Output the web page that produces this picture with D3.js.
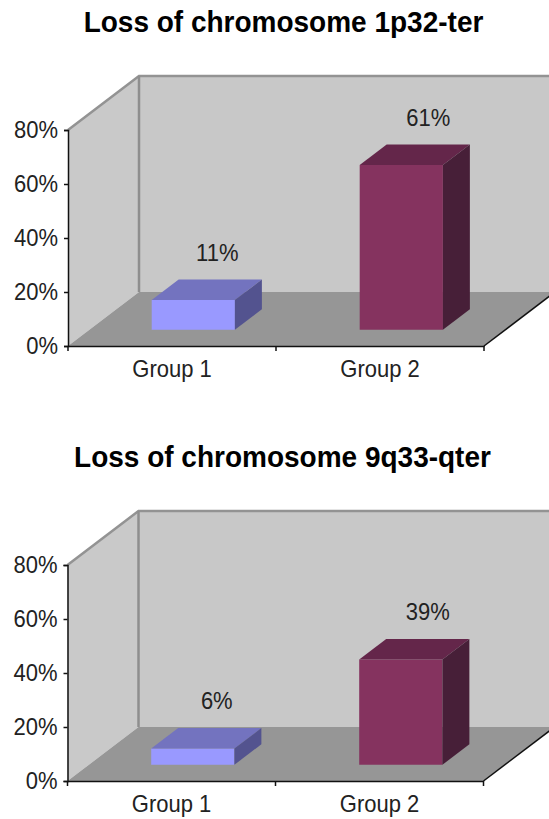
<!DOCTYPE html>
<html>
<head>
<meta charset="utf-8">
<script src="https://cdn.jsdelivr.net/npm/d3@7"></script>
<style>
    body { margin: 0; background: #fff; }
    /* the source picture is a little taller than wide, letters included */
    text {
        font-family: "Liberation Sans", Arial, sans-serif;
        transform-box: fill-box;
        transform-origin: center;
        transform: scaleY(1.07);
    }
</style>
</head>
<body>
<svg id="chart" width="549" height="819"></svg>
<script>
let groups = ["Group 1", "Group 2"];
let titles = ["Loss of chromosome 1p32-ter", "Loss of chromosome 9q33-qter"];
let valuesTop = [11, 61];
let valuesBottom = [6, 39];
let yTicks = [0, 20, 40, 60, 80];
let barFront = ["#9999ff", "#85335f"];
let barTop = ["#7373bf", "#64264a"];
let barSide = ["#53538f", "#471f38"];

let svg = d3.select("#chart");

function drawPanel(title, values, o) {
    let g = svg.append("g").attr("transform", "translate(" + o.left + "," + o.top + ")");

    let xScale = d3.scaleBand().domain(groups).range([0, 416]);
    let yScale = d3.scaleLinear().domain([0, 80]).range([216, 0]);

    let depthX = 71, depthY = 54;
    let right = xScale.range()[1];
    let zero = yScale(0), full = yScale(80);

    // point in chart space, d is depth 0 (front) to 1 (back wall)
    function pt(x, y, d) {
        return [x + d * depthX, y - d * depthY];
    }
    let poly = function (pts) {
        return "M" + pts.map(function (p) { return p.join(","); }).join("L") + "Z";
    };

    // walls and floor
    g.append("path")
        .attr("d", poly([pt(0, full, 1), pt(right, full, 1), pt(right, zero, 1), pt(0, zero, 1)]))
        .attr("fill", "#c8c8c8");
    g.append("path")
        .attr("d", poly([pt(0, full, 0), pt(0, full, 1), pt(0, zero, 1), pt(0, zero, 0)]))
        .attr("fill", "#c9c9c9");
    g.append("path")
        .attr("d", poly([pt(0, zero, 0), pt(right, zero, 0), pt(right, zero, 1), pt(0, zero, 1)]))
        .attr("fill", "#969696");

    let edges = d3.line();
    g.append("path")
        .attr("d", edges([pt(0, full, 0), pt(0, full, 1), pt(right, full, 1)]))
        .attr("fill", "none").attr("stroke", "#939393").attr("stroke-width", 2.5);
    g.append("path")
        .attr("d", edges([pt(0, full, 1), pt(0, zero, 1)]))
        .attr("fill", "none").attr("stroke", "#8e8e8e").attr("stroke-width", 2.5);

    // bars
    let front = 0.3, back = 0.68;
    let barW = xScale.bandwidth() * 0.4;
    values.forEach(function (v, i) {
        let x0 = xScale(groups[i]) + xScale.bandwidth() / 2 - barW / 2;
        let x1 = x0 + barW;
        let yv = yScale(v);
        g.append("path")
            .attr("d", poly([pt(x0, yv, front), pt(x1, yv, front), pt(x1, zero, front), pt(x0, zero, front)]))
            .attr("fill", barFront[i]);
        g.append("path")
            .attr("d", poly([pt(x0, yv, front), pt(x0, yv, back), pt(x1, yv, back), pt(x1, yv, front)]))
            .attr("fill", barTop[i]);
        g.append("path")
            .attr("d", poly([pt(x1, yv, front), pt(x1, yv, back), pt(x1, zero, back), pt(x1, zero, front)]))
            .attr("fill", barSide[i]);

        let lab = pt((x0 + x1) / 2, yv, back);
        g.append("text")
            .attr("x", lab[0] + (i === 0 ? -3 : 0))
            .attr("y", lab[1] - 19.5)
            .attr("text-anchor", "middle")
            .attr("font-size", 22)
            .attr("fill", "#222")
            .text(v + "%");
    });

    // axes on top
    let yAxis = d3.axisLeft(yScale).tickValues(yTicks).tickSize(4).tickPadding(6)
        .tickFormat(function (d) { return d + "%"; });
    let ya = g.append("g").call(yAxis);
    ya.selectAll("text").attr("font-size", 22).attr("font-family", null).attr("fill", "#222");

    let xAxis = d3.axisBottom(xScale).tickSize(0).tickPadding(15);
    let xa = g.append("g").attr("transform", "translate(0," + zero + ")").call(xAxis);
    xa.selectAll("text").attr("font-size", 22).attr("font-family", null).attr("fill", "#222");
    xScale.domain().concat(["end"]).forEach(function (d, i) {
        let tx = i * xScale.step();
        xa.append("line").attr("x1", tx).attr("x2", tx).attr("y1", 0).attr("y2", 5)
            .attr("stroke", "#111").attr("stroke-width", 1.5);
    });

    g.selectAll(".domain").attr("stroke", "#111").attr("stroke-width", 1.5);
    g.selectAll(".tick line").attr("stroke", "#111").attr("stroke-width", 1.5);

    g.append("path")
        .attr("d", edges([pt(right, zero, 0), pt(right, zero, 1)]))
        .attr("fill", "none").attr("stroke", "#111").attr("stroke-width", 1.5);

    svg.append("text")
        .attr("x", o.titleX)
        .attr("y", o.titleY)
        .attr("text-anchor", "middle")
        .attr("font-size", 28)
        .attr("font-weight", "bold")
        .attr("fill", "#000")
        .text(title);
}

drawPanel(titles[0], valuesTop, { left: 68, top: 130, titleX: 283.5, titleY: 31 });
drawPanel(titles[1], valuesBottom, { left: 67.5, top: 565, titleX: 282.5, titleY: 466 });
</script>
</body>
</html>
